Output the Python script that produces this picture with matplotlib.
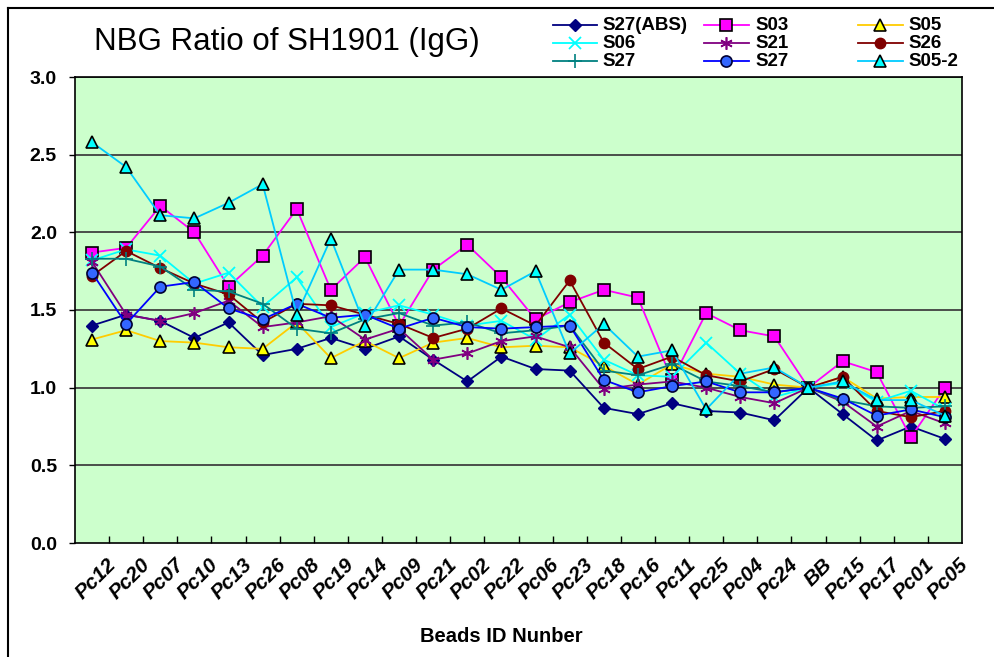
import matplotlib
matplotlib.use("Agg")
import matplotlib.pyplot as plt
from matplotlib.lines import Line2D
import matplotlib.transforms as mtransforms

plt.rcParams['font.family'] = ['Liberation Sans', 'DejaVu Sans']

categories = ["Pc12", "Pc20", "Pc07", "Pc10", "Pc13", "Pc26", "Pc08", "Pc19", "Pc14", "Pc09",
              "Pc21", "Pc02", "Pc22", "Pc06", "Pc23", "Pc18", "Pc16", "Pc11", "Pc25", "Pc04",
              "Pc24", "BB", "Pc15", "Pc17", "Pc01", "Pc05"]

s27_abs = [1.40, 1.47, 1.43, 1.32, 1.42, 1.21, 1.25, 1.32, 1.25, 1.33, 1.18, 1.04, 1.20,
           1.12, 1.11, 0.87, 0.83, 0.90, 0.85, 0.84, 0.79, 1.00, 0.83, 0.66, 0.75, 0.67]
s03 = [1.87, 1.90, 2.17, 2.00, 1.65, 1.85, 2.15, 1.63, 1.84, 1.40, 1.76, 1.92, 1.71,
       1.44, 1.55, 1.63, 1.58, 1.05, 1.48, 1.37, 1.33, 1.00, 1.17, 1.10, 0.68, 1.00]
s05 = [1.31, 1.37, 1.30, 1.29, 1.26, 1.25, 1.42, 1.19, 1.30, 1.19, 1.29, 1.32, 1.26,
       1.27, 1.26, 1.14, 1.02, 1.15, 1.09, 1.07, 1.02, 1.00, 1.07, 0.93, 0.94, 0.94]
s06 = [1.82, 1.89, 1.85, 1.67, 1.74, 1.52, 1.71, 1.39, 1.48, 1.53, 1.47, 1.40, 1.43,
       1.31, 1.47, 1.18, 1.08, 1.07, 1.29, 1.09, 0.94, 1.00, 1.03, 0.91, 0.98, 0.86]
s21 = [1.81, 1.47, 1.43, 1.48, 1.56, 1.39, 1.42, 1.46, 1.31, 1.38, 1.18, 1.22, 1.30,
       1.33, 1.26, 0.99, 1.02, 1.04, 1.00, 0.94, 0.90, 1.00, 0.91, 0.75, 0.85, 0.77]
s26 = [1.72, 1.88, 1.77, 1.67, 1.60, 1.42, 1.54, 1.53, 1.47, 1.41, 1.32, 1.38, 1.51,
       1.40, 1.69, 1.29, 1.12, 1.20, 1.08, 1.04, 1.12, 1.00, 1.07, 0.85, 0.81, 0.85]
s27_teal = [1.83, 1.83, 1.78, 1.63, 1.62, 1.54, 1.38, 1.35, 1.44, 1.48, 1.40, 1.42, 1.35,
            1.37, 1.40, 1.11, 1.08, 1.15, 1.04, 1.01, 0.97, 1.00, 0.92, 0.88, 0.87, 0.88]
s27_blue = [1.74, 1.41, 1.65, 1.68, 1.51, 1.44, 1.54, 1.45, 1.47, 1.38, 1.45, 1.39, 1.38,
            1.39, 1.40, 1.05, 0.97, 1.01, 1.04, 0.97, 0.97, 1.00, 0.93, 0.82, 0.86, 0.81]
s05_2 = [2.58, 2.42, 2.11, 2.09, 2.19, 2.31, 1.47, 1.96, 1.40, 1.76, 1.76, 1.73, 1.63,
         1.75, 1.22, 1.41, 1.20, 1.24, 0.86, 1.09, 1.13, 1.00, 1.04, 0.92, 0.92, 0.82]

W, H = 995, 657
fig = plt.figure(figsize=(W / 100, H / 100), dpi=100)
fig.patch.set_facecolor('white')


def fx(px):
    return px / W


def fy(py):
    return 1 - py / H


L, R, T, B = 75, 962, 77, 543
ax = fig.add_axes([fx(L), fy(B), (R - L) / W, (B - T) / H])
ax.set_facecolor('#CCFFCC')

x = list(range(len(categories)))
series = [
    ("S27(ABS)", s27_abs, dict(color='#000080', marker='D', markersize=6.5, mfc='#000080', mec='#000080')),
    ("S03", s03, dict(color='#FF00FF', marker='s', markersize=8, mfc='#FF00FF', mec='black', mew=1.2)),
    ("S05", s05, dict(color='#FFCC00', marker='^', markersize=8.5, mfc='#FFFF00', mec='black', mew=1.2)),
    ("S06", s06, dict(color='#00FFFF', marker='x', markersize=8, mfc='#00FFFF', mec='#00FFFF', mew=1.3)),
    ("S21", s21, dict(color='#800080', marker=(6, 2, 0), markersize=9, mfc='#800080', mec='#800080', mew=1.2)),
    ("S26", s26, dict(color='#800000', marker='o', markersize=7.5, mfc='#800000', mec='#800000')),
    ("S27", s27_teal, dict(color='#008080', marker='+', markersize=10, mfc='#008080', mec='#008080', mew=1.2)),
    ("S27", s27_blue, dict(color='#0000FF', marker='o', markersize=8, mfc='#3366FF', mec='#000033', mew=1.2)),
    ("S05-2", s05_2, dict(color='#00CCFF', marker='^', markersize=8.5, mfc='#00FFFF', mec='black', mew=1.2)),
]

for name, vals, st in series:
    ax.plot(x, vals, lw=1.3, label=name, zorder=3, **st)

ax.set_xlim(-0.5, len(categories) - 0.5)
ax.set_ylim(0, 3.0)
yt = [0, 0.5, 1.0, 1.5, 2.0, 2.5, 3.0]
ax.set_yticks(yt)
ax.set_yticklabels([f"{v:.1f}" for v in yt], fontsize=14, fontweight='bold')
ax.tick_params(axis='y', length=4, width=1, pad=9, direction='out')
for yv in yt[1:]:
    ax.axhline(yv, color='#404040', lw=1.3, zorder=1)

ax.set_xticks(x)
ax.set_xticks([i + 0.5 for i in range(len(categories) - 1)], minor=True)
ax.tick_params(axis='x', which='major', length=0)
ax.tick_params(axis='x', which='minor', length=5, width=1, direction='in')
ax.set_xticklabels([])
offset = mtransforms.ScaledTranslation(14 / 100, -12 / 100, fig.dpi_scale_trans)
for i, c in enumerate(categories):
    ax.text(i, 0, c, transform=ax.get_xaxis_transform() + offset, rotation=45,
            ha='right', va='top', rotation_mode='anchor', fontsize=15,
            fontweight='bold', fontstyle='italic')

for s in ax.spines.values():
    s.set_color('black')
    s.set_linewidth(1.2)

fig.text(fx(501), fy(636), "Beads ID Nunber", ha='center', va='center',
         fontsize=14.5, fontweight='bold')
fig.text(fx(287), fy(42), "NBG Ratio of SH1901 (IgG)", ha='center', va='center',
         fontsize=22.5)

# outer chart border (only top and left edges fall inside the image)
fig.add_artist(Line2D([fx(8), 1], [fy(8), fy(8)], color='black', lw=1.5))
fig.add_artist(Line2D([fx(8), fx(8)], [0, fy(8)], color='black', lw=1.5))

# legend, laid out as in the reference (row-major, 3 columns)
rows_y = [25, 43, 61]
cols = [(553, 597, 602), (704, 749, 755), (858, 903, 908)]
for k, (name, vals, st) in enumerate(series):
    r, c = divmod(k, 3)
    x0, x1, tx = cols[c]
    yy = rows_y[r]
    ln = Line2D([fx(x0), fx(x1)], [fy(yy), fy(yy)], lw=1.3, transform=fig.transFigure,
                markevery=[], **{kk: v for kk, v in st.items() if kk != 'marker'})
    fig.add_artist(ln)
    mk = Line2D([fx((x0 + x1) / 2)], [fy(yy)], transform=fig.transFigure, linestyle='none',
                **st)
    fig.add_artist(mk)
    fig.text(fx(tx), fy(yy + 1), name, ha='left', va='center', fontsize=13.5,
             fontweight='bold')

fig.savefig("out.png", dpi=100, facecolor='white')
